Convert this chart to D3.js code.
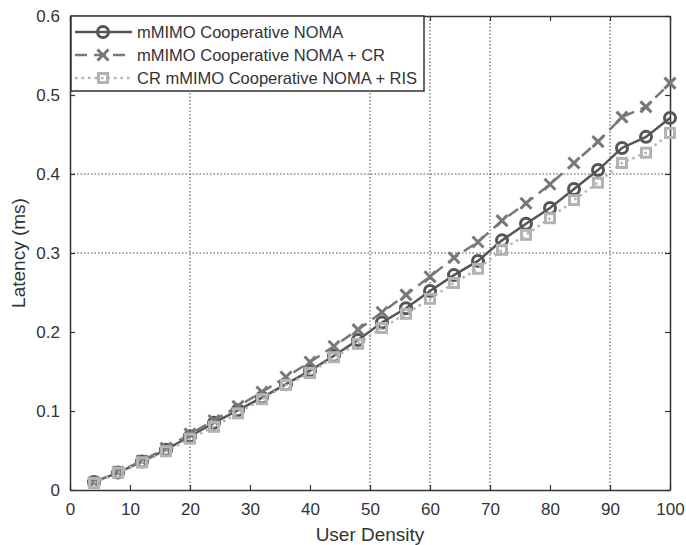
<!DOCTYPE html>
<html>
<head>
<meta charset="utf-8">
<script src="https://cdn.jsdelivr.net/npm/d3@7"></script>
<style>
  body { margin: 0; background: #fff; }
  svg { display: block; font-family: "Liberation Sans", Arial, sans-serif; }
</style>
</head>
<body>
<svg id="chart" width="686" height="545"></svg>
<script>
// User density values (x axis)
const userDensity = [4, 8, 12, 16, 20, 24, 28, 32, 36, 40, 44, 48, 52, 56, 60, 64, 68, 72, 76, 80, 84, 88, 92, 96, 100];

// Latency (ms) for each scheme
const latencyNoma = [0.010, 0.022, 0.036, 0.051, 0.068, 0.085, 0.101, 0.117, 0.134, 0.151, 0.170, 0.190, 0.212, 0.230, 0.252, 0.272, 0.290, 0.316, 0.337, 0.357, 0.381, 0.405, 0.433, 0.447, 0.471];
const latencyNomaCR = [0.010, 0.023, 0.037, 0.053, 0.071, 0.088, 0.106, 0.124, 0.143, 0.162, 0.182, 0.203, 0.225, 0.247, 0.270, 0.294, 0.314, 0.341, 0.363, 0.387, 0.414, 0.441, 0.472, 0.485, 0.515];
const latencyNomaRIS = [0.009, 0.022, 0.035, 0.049, 0.065, 0.080, 0.097, 0.115, 0.133, 0.148, 0.168, 0.185, 0.205, 0.223, 0.242, 0.262, 0.280, 0.304, 0.323, 0.344, 0.367, 0.389, 0.414, 0.427, 0.452];

const seriesNames = ["mMIMO Cooperative NOMA", "mMIMO Cooperative NOMA + CR", "CR mMIMO Cooperative NOMA + RIS"];

// Tick values and the subset that carries grid lines
const xTicks = [0, 10, 20, 30, 40, 50, 60, 70, 80, 90, 100];
const yTicks = [0, 0.1, 0.2, 0.3, 0.4, 0.5, 0.6];
const xGrid = [20, 50, 60, 70, 90];
const yGrid = [0.3, 0.4];

(function () {
const svg = d3.select("#chart");
const plotL = 70, plotR = 670, plotT = 16, plotB = 490;

const x = d3.scaleLinear().domain([0, 100]).range([plotL, plotR]);
const y = d3.scaleLinear().domain([0, 0.6]).range([plotB, plotT]);

const axisColor = "#333";
const textColor = "#333";

// Grid lines
const grid = svg.append("g").attr("stroke", "#444").attr("stroke-width", 1).attr("stroke-dasharray", "1.5,2");
grid.selectAll("line.vx").data(xGrid).join("line")
  .attr("x1", d => x(d)).attr("x2", d => x(d)).attr("y1", plotT).attr("y2", plotB);
grid.selectAll("line.hy").data(yGrid).join("line")
  .attr("x1", plotL).attr("x2", plotR).attr("y1", d => y(d)).attr("y2", d => y(d));

// Axes (inward ticks on all four sides)
const fmtY = d => d === 0 ? "0" : d3.format(".1f")(d);
const bottomAxis = svg.append("g").attr("transform", `translate(0,${plotB})`)
  .call(d3.axisBottom(x).tickValues(xTicks).tickSizeInner(-5).tickSizeOuter(0).tickPadding(13));
const topAxis = svg.append("g").attr("transform", `translate(0,${plotT})`)
  .call(d3.axisTop(x).tickValues(xTicks).tickSizeInner(-5).tickSizeOuter(0).tickFormat(""));
const leftAxis = svg.append("g").attr("transform", `translate(${plotL},0)`)
  .call(d3.axisLeft(y).tickValues(yTicks).tickSizeInner(-5).tickSizeOuter(0).tickPadding(10).tickFormat(fmtY));
const rightAxis = svg.append("g").attr("transform", `translate(${plotR},0)`)
  .call(d3.axisRight(y).tickValues(yTicks).tickSizeInner(-5).tickSizeOuter(0).tickFormat(""));

[bottomAxis, topAxis, leftAxis, rightAxis].forEach(g => {
  g.select(".domain").attr("stroke", axisColor).attr("stroke-width", 1.5);
  g.selectAll(".tick line").attr("stroke", axisColor).attr("stroke-width", 1.2);
  g.selectAll(".tick text").attr("fill", textColor).attr("font-size", 17)
    .attr("font-family", "'Liberation Sans', Arial, sans-serif");
});

// Axis titles
svg.append("text").attr("x", x(50)).attr("y", 541).attr("text-anchor", "middle")
  .attr("fill", textColor).attr("font-size", 19).text("User Density");
svg.append("text").attr("transform", `translate(25,${(plotT + plotB) / 2}) rotate(-90)`)
  .attr("text-anchor", "middle").attr("fill", textColor).attr("font-size", 19).text("Latency (ms)");

// Series styles
const styles = [
  { values: latencyNoma, color: "#555", dash: null, marker: "circle" },
  { values: latencyNomaCR, color: "#787878", dash: "12,7", marker: "x" },
  { values: latencyNomaRIS, color: "#b3b3b3", dash: "2.5,4", marker: "square" }
];

function drawMarker(g, kind, cx, cy, color) {
  if (kind === "circle") {
    g.append("circle").attr("cx", cx).attr("cy", cy).attr("r", 5.5)
      .attr("fill", "none").attr("stroke", color).attr("stroke-width", 3);
  } else if (kind === "x") {
    const s = 5.5;
    g.append("path").attr("d", `M${cx - s},${cy - s}L${cx + s},${cy + s}M${cx - s},${cy + s}L${cx + s},${cy - s}`)
      .attr("stroke", color).attr("stroke-width", 3).attr("fill", "none");
  } else {
    const s = 4.5;
    g.append("rect").attr("x", cx - s).attr("y", cy - s).attr("width", 2 * s).attr("height", 2 * s)
      .attr("fill", "none").attr("stroke", color).attr("stroke-width", 3);
  }
}

const line = d3.line().x(d => x(d[0])).y(d => y(d[1]));
styles.forEach(st => {
  const pts = userDensity.map((u, i) => [u, st.values[i]]);
  const g = svg.append("g");
  g.append("path").datum(pts).attr("d", line).attr("fill", "none")
    .attr("stroke", st.color).attr("stroke-width", 2.5)
    .attr("stroke-dasharray", st.dash);
  pts.forEach(p => drawMarker(g, st.marker, x(p[0]), y(p[1]), st.color));
});

// Legend
const lg = svg.append("g");
lg.append("rect").attr("x", 71).attr("y", plotT).attr("width", 353).attr("height", 75)
  .attr("fill", "#fff").attr("stroke", axisColor).attr("stroke-width", 1.5);
seriesNames.forEach((name, i) => {
  const cy = 32 + i * 23;
  const st = styles[i];
  lg.append("line").attr("x1", 75).attr("x2", 132).attr("y1", cy).attr("y2", cy)
    .attr("stroke", st.color).attr("stroke-width", 2.5).attr("stroke-dasharray", st.dash);
  drawMarker(lg, st.marker, 103, cy, st.color);
  lg.append("text").attr("x", 137).attr("y", cy).attr("dy", "0.35em")
    .attr("fill", textColor).attr("font-size", 16.5).text(name);
});
})();
</script>
</body>
</html>
